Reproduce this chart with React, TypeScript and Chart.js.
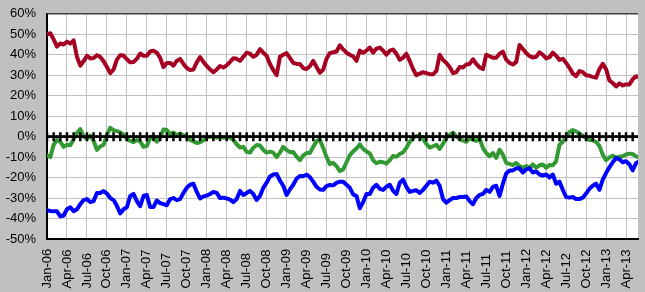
import { useEffect, useRef } from 'react';
import { Chart, registerables } from 'chart.js';

Chart.register(...registerables);

// Quarter tick labels (one every 3 months, starting Jan-06)
const QUARTER_LABELS = [
  'Jan-06', 'Apr-06', 'Jul-06', 'Oct-06',
  'Jan-07', 'Apr-07', 'Jul-07', 'Oct-07',
  'Jan-08', 'Apr-08', 'Jul-08', 'Oct-08',
  'Jan-09', 'Apr-09', 'Jul-09', 'Oct-09',
  'Jan-10', 'Apr-10', 'Jul-10', 'Oct-10',
  'Jan-11', 'Apr-11', 'Jul-11', 'Oct-11',
  'Jan-12', 'Apr-12', 'Jul-12', 'Oct-12',
  'Jan-13', 'Apr-13',
];
const MONTHS_PER_QUARTER = 3;
const X_MAX_MONTHS = 88.8;

// Series sampled every half month from Jan-06 (values in %)
const HALF_MONTH = 0.5;

const RED = [
  50, 50.5, 47.5, 44, 45.5, 45, 46.4, 45.5, 47, 39,
  34.7, 36.8, 39.5, 38.2, 38.4, 39.8, 38.9, 36.8, 34, 31,
  32.8, 37.6, 39.8, 39.6, 37.8, 36.3, 36.5, 38, 40.6, 39.5,
  39.5, 41.6, 42, 41, 38.5, 34, 36, 36, 34.7, 37,
  38, 35.5, 33.5, 32.5, 32.8, 36.3, 38.8, 36.5, 34.5, 32.8,
  31.5, 32.8, 34.5, 33.8, 34.8, 36.5, 38.3, 38, 37, 39,
  41, 40.5, 39, 40, 42.7, 41, 39.5, 35.5, 32.5, 30,
  39, 40, 40.8, 38.5, 36, 35.5, 35.5, 33.5, 33, 34.4,
  37, 34, 31.2, 32.8, 38, 40.8, 41.2, 41.6, 44.6, 42.6,
  41, 40, 39.2, 37, 42, 41, 42, 43.5, 41, 43,
  43.5, 42, 40, 42, 42.5, 40.5, 37.5, 38.5, 40.5, 37,
  33, 30, 30.8, 31.5, 31, 30.5, 30.5, 32, 40, 37.5,
  36, 34, 31, 31.5, 34, 33.8, 35.2, 35.5, 37.8, 35.5,
  33.8, 33, 40, 39.3, 38.5, 38.5, 40.5, 41.5, 37.6, 36,
  35.2, 36.5, 44.8, 42.8, 40.8, 39.4, 38.6, 39, 41.2, 40,
  38.2, 38.8, 41, 39.5, 37.5, 38, 36, 33.6, 30.8, 29.6,
  32, 31.5, 30, 29.7, 29.2, 28.8, 33, 35.5, 33, 27.5,
  26.2, 24.5, 26, 25, 25.5, 25.5, 28, 29.5, 29,
];

const GREEN = [
  -9.1, -10, -4, -1.6, -2.5, -5, -4, -4.2, -1.2, 1.8,
  3.7, 0, -1, 0.5, -2, -6.5, -4.8, -4, 0.8, 4.3,
  3.2, 2.7, 2.1, 1.1, -1.1, -2, -2.7, -1.6, -2.4, -5,
  -4.5, -0.8, 0.5, -2.5, -0.5, 3.5, 3.2, 1.3, 2, 0.7,
  1.5, 0.7, -0.2, -1.6, -2.3, -3.1, -2.8, -1.8, -0.5, 0,
  0, -0.5, 0, -0.5, -0.3, -0.5, -1.6, -3.7, -5.3, -5,
  -7.4, -7.8, -5.4, -4.1, -4.3, -6.5, -7.8, -7.3, -7.8, -10,
  -7.8, -5, -6.5, -7.6, -7.5, -9.8, -11.5, -9.2, -8, -8,
  -5, -2.2, -1.5, -5.5, -10, -13.4, -12.8, -14.4, -16.8, -16,
  -12.5, -9, -7.2, -5.8, -3.8, -6, -7.2, -8.2, -11.5, -13,
  -12.3, -12.5, -13.2, -11.5, -9.4, -9.8, -8.5, -7.7, -5.5, -2.5,
  -0.5, 0.3, 0.2, -1, -3.6, -5.4, -4.7, -4, -6, -3.5,
  -0.5, 0.9, 2, 0, -1, -1.9, -2.6, -0.8, -1.4, -2.1,
  -0.8, -5.6, -8, -9.6, -8, -10.4, -6.4, -8.8, -12.8, -13.3,
  -13.9, -12.8, -14.4, -15.2, -14.4, -15.2, -13.6, -15.2, -14, -13.6,
  -15.2, -13.9, -14, -12, -4, -2.5, 0, 2.3, 3.2, 2.5,
  1.4, 0.4, -0.7, -1.6, -1.8, -2.6, -4.5, -8.8, -11.5, -10.2,
  -9.3, -10.3, -9.8, -9.6, -8.7, -8.3, -8.5, -9.6, -10.4,
];

const BLUE = [
  -36, -36.3, -36.5, -36.5, -38.9, -38.5, -35.5, -34.5, -36.4, -35.5,
  -33, -31, -30.5, -32, -31.5, -27.5, -27.5, -26.6, -27.8, -30,
  -31, -33.8, -37.5, -35.5, -34.5, -29, -28, -31.5, -34, -29,
  -28.5, -34.4, -34.4, -31.2, -32.5, -33, -33.5, -30.5, -30, -31,
  -30.5, -27.5, -25, -23.5, -23, -27, -30.2, -29.2, -28.8, -28,
  -27, -27.5, -30, -29.8, -30.2, -30.8, -32, -30.5, -26.5, -28.5,
  -27.5, -26.5, -28, -31, -29, -25, -22.5, -19.5, -18.5, -18.2,
  -21.5, -24, -28.5, -25.8, -23.5, -20.5, -19.2, -19.3, -18.6, -19.8,
  -22, -24.5, -25.8, -26, -24.2, -23.6, -23.8, -22.6, -22, -22,
  -23.5, -25, -28.2, -29, -35, -32, -28, -28, -25, -23.5,
  -25.5, -26, -24.5, -23.5, -26.5, -28, -22.5, -21, -24.5, -27,
  -26.5, -26.2, -27.5, -26, -24, -22, -22.5, -21.5, -24, -30.5,
  -32.3, -31, -30, -30, -29.5, -29.5, -29.2, -31.5, -33, -30,
  -28.5, -28, -26, -27, -24.5, -24, -29, -23, -18, -16.5,
  -16.5, -15.5, -15.5, -17.5, -16, -15.5, -17.5, -17, -18.5, -19,
  -18.5, -20, -18.5, -23, -22, -26, -29.5, -29.8, -29.5, -30.5,
  -30.5, -29.8, -27.8, -25.5, -24, -23, -26, -21, -17.8, -15,
  -12.5, -10.5, -11, -12.5, -12, -13.5, -16.5, -13, -12,
];

// Zero reference line, one marker per month
const ZERO = [
  0, 0, 0, 0, 0, 0, 0, 0, 0, 0,
  0, 0, 0, 0, 0, 0, 0, 0, 0, 0,
  0, 0, 0, 0, 0, 0, 0, 0, 0, 0,
  0, 0, 0, 0, 0, 0, 0, 0, 0, 0,
  0, 0, 0, 0, 0, 0, 0, 0, 0, 0,
  0, 0, 0, 0, 0, 0, 0, 0, 0, 0,
  0, 0, 0, 0, 0, 0, 0, 0, 0, 0,
  0, 0, 0, 0, 0, 0, 0, 0, 0, 0,
  0, 0, 0, 0, 0, 0, 0, 0, 0, 0,
];
const ONE_MONTH = 1;

const FONT_FAMILY = "'Liberation Sans', Arial, sans-serif";

export default function App() {
  const ref = useRef<HTMLCanvasElement>(null);

  useEffect(() => {
    document.body.style.margin = '0';
    const toPts = (arr: number[], step: number) => arr.map((v, i) => ({ x: i * step, y: v }));

    const bgPlugin = {
      id: 'bg',
      beforeDraw(chart: any) {
        const { ctx, chartArea } = chart;
        ctx.save();
        ctx.fillStyle = '#C0C0C0';
        ctx.fillRect(0, 0, chart.width, chart.height);
        ctx.fillStyle = '#FFFFFF';
        ctx.fillRect(chartArea.left, chartArea.top, chartArea.right - chartArea.left, chartArea.bottom - chartArea.top);
        ctx.restore();
      },
      afterDraw(chart: any) {
        const { ctx, chartArea } = chart;
        ctx.save();
        ctx.strokeStyle = '#404040';
        ctx.lineWidth = 1.5;
        ctx.beginPath();
        ctx.moveTo(chartArea.left, chartArea.top);
        ctx.lineTo(chartArea.right, chartArea.top);
        ctx.stroke();
        // x-axis labels, rotated, starting from the bottom
        const xs = chart.scales.x;
        ctx.fillStyle = '#000';
        ctx.font = `13px ${FONT_FAMILY}`;
        ctx.textAlign = 'left';
        ctx.textBaseline = 'middle';
        QUARTER_LABELS.forEach((lab, i) => {
          const px = xs.getPixelForValue(i * MONTHS_PER_QUARTER);
          ctx.save();
          ctx.translate(px, 288.5);
          ctx.rotate(-Math.PI / 2);
          ctx.fillText(lab, 0, 0);
          ctx.restore();
        });
        ctx.restore();
      },
    };

    const common = { pointRadius: 0, tension: 0, borderJoinStyle: 'round', borderCapStyle: 'round', fill: false };

    const chart = new Chart(ref.current as HTMLCanvasElement, {
      type: 'line',
      data: {
        datasets: [
          {
            data: toPts(ZERO, ONE_MONTH),
            borderColor: '#000000',
            borderWidth: 2.5,
            pointStyle: 'cross',
            pointRadius: 4.5,
            pointBorderWidth: 2.5,
            pointBorderColor: '#000000',
            pointBackgroundColor: '#000000',
            tension: 0,
            order: 0,
          },
          { ...common, data: toPts(BLUE, HALF_MONTH), borderColor: '#0000FF', borderWidth: 4, order: 1 },
          { ...common, data: toPts(GREEN, HALF_MONTH), borderColor: '#339933', borderWidth: 4, order: 2 },
          { ...common, data: toPts(RED, HALF_MONTH), borderColor: '#A50021', borderWidth: 4, order: 3 },
        ] as any,
      },
      options: {
        animation: false,
        responsive: false,
        maintainAspectRatio: false,
        layout: { padding: { top: 9, right: 0, left: 0, bottom: 0 } },
        plugins: { legend: { display: false }, tooltip: { enabled: false } },
        scales: {
          x: {
            type: 'linear',
            min: 0,
            max: X_MAX_MONTHS,
            ticks: { display: false },
            grid: { color: '#C0C0C0', lineWidth: 1, drawTicks: false },
            border: { color: '#000000', width: 2 },
            afterBuildTicks: (s: any) => {
              s.ticks = QUARTER_LABELS.map((_, i) => ({ value: i * MONTHS_PER_QUARTER }));
            },
            afterFit: (s: any) => {
              s.height = 53;
            },
          },
          y: {
            min: -50,
            max: 60,
            ticks: {
              stepSize: 10,
              callback: (v: any) => `${v}%`,
              font: { family: FONT_FAMILY, size: 13 },
              color: '#000000',
              padding: 6,
            },
            grid: { color: '#C0C0C0', lineWidth: 1, tickLength: 5 },
            border: { color: '#000000', width: 2 },
            afterFit: (s: any) => {
              s.width = 47;
            },
          },
        },
      } as any,
      plugins: [bgPlugin],
    });
    return () => chart.destroy();
  }, []);

  return (
    <div style={{ position: 'absolute', left: 0, top: 0, width: 645, height: 292, background: '#C0C0C0', overflow: 'hidden' }}>
      <canvas ref={ref} width={645} height={292} style={{ display: 'block', width: 645, height: 292 }} />
    </div>
  );
}
